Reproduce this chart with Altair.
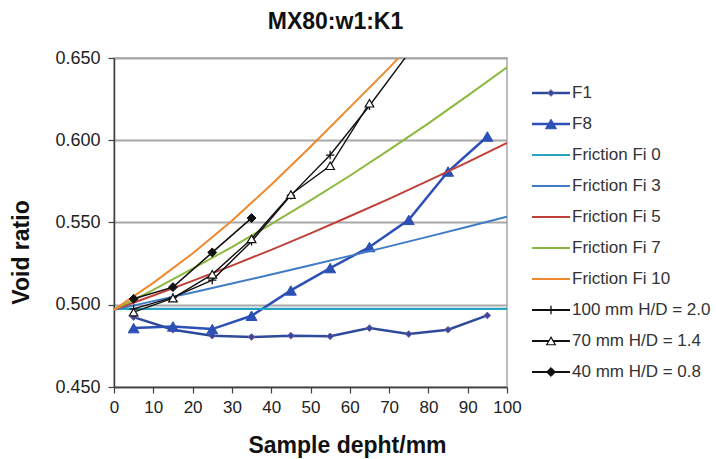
import altair as alt
import pandas as pd

# ---------------- data ----------------
depth_fi = [0, 10, 20, 30, 40, 50, 60, 70, 80, 90, 100]
fi0 = [0.4975, 0.4975, 0.4975, 0.4975, 0.4975, 0.4975, 0.4975, 0.4975, 0.4975, 0.4975, 0.4975]
fi3 = [0.497, 0.5022, 0.5075, 0.5129, 0.5184, 0.5240, 0.5297, 0.5355, 0.5414, 0.5474, 0.5535]
fi5 = [0.497, 0.5056, 0.5145, 0.5238, 0.5334, 0.5434, 0.5538, 0.5644, 0.5755, 0.5867, 0.5984]
fi7 = [0.497, 0.5091, 0.5219, 0.5351, 0.5490, 0.5635, 0.5784, 0.5941, 0.6103, 0.6271, 0.6444]
fi10 = [0.497, 0.5133, 0.5312, 0.5510, 0.5730, 0.5960, 0.6200, 0.6440, 0.6693]

depth_f = [5, 15, 25, 35, 45, 55, 65, 75, 85, 95]
f1 = [0.4925, 0.4848, 0.4812, 0.4804, 0.4812, 0.4808, 0.4858, 0.4822, 0.4848, 0.4935]
f8 = [0.4858, 0.4868, 0.4852, 0.4933, 0.5087, 0.5223, 0.5351, 0.5516, 0.5810, 0.6023]

depth_h100 = [5, 15, 25, 35, 45, 55, 65, 75]
h100 = [0.4975, 0.5045, 0.5150, 0.5385, 0.5665, 0.5910, 0.6210, 0.6530]
depth_h70 = [5, 15, 25, 35, 45, 55, 65]
h70 = [0.4955, 0.5040, 0.5185, 0.5400, 0.5670, 0.5845, 0.6225]
depth_h40 = [5, 15, 25, 35]
h40 = [0.5036, 0.5107, 0.5318, 0.5527]

labels = ["F1", "F8", "Friction Fi 0", "Friction Fi 3", "Friction Fi 5",
          "Friction Fi 7", "Friction Fi 10", "100 mm H/D = 2.0",
          "70 mm H/D = 1.4", "40 mm H/D = 0.8"]

PLUS = "M-1,0L1,0M0,-1L0,1"

series = [
    # label, x, y, line color, line width, marker
    ("F1", depth_f, f1, "#2E4B9B", 2.5,
     dict(shape="diamond", filled=True, fill="#34499E", stroke="#7B5EA0", size=45, strokeWidth=1)),
    ("F8", depth_f, f8, "#2C50B6", 2.5,
     dict(shape="triangle-up", filled=True, fill="#2C50B6", stroke="#2C50B6", size=120, strokeWidth=1)),
    ("Friction Fi 0", depth_fi, fi0, "#25A5C3", 2.2, None),
    ("Friction Fi 3", depth_fi, fi3, "#3F7CC4", 2.0, None),
    ("Friction Fi 5", depth_fi, fi5, "#C0403A", 2.0, None),
    ("Friction Fi 7", depth_fi, fi7, "#8DB83F", 2.0, None),
    ("Friction Fi 10", depth_fi[:len(fi10)], fi10, "#F0882D", 2.0, None),
    ("100 mm H/D = 2.0", depth_h100, h100, "#111111", 1.4,
     dict(shape=PLUS, filled=False, fill="#111111", stroke="#111111", size=70, strokeWidth=1.3)),
    ("70 mm H/D = 1.4", depth_h70, h70, "#111111", 1.4,
     dict(shape="triangle-up", filled=True, fill="#FFFFFF", stroke="#111111", size=75, strokeWidth=1.2)),
    ("40 mm H/D = 0.8", depth_h40, h40, "#111111", 1.6,
     dict(shape="diamond", filled=True, fill="#111111", stroke="#111111", size=80, strokeWidth=1)),
]

W, H = 393, 329

x_scale = alt.Scale(domain=[0, 100], nice=False, zero=False)
y_scale = alt.Scale(domain=[0.45, 0.65], nice=False, zero=False)

x_axis = alt.Axis(values=list(range(0, 101, 10)), grid=False, domainColor="#404040",
                  domainWidth=1.5, tickColor="#404040", tickSize=6, tickWidth=1.2,
                  labelFontSize=17, labelPadding=6, labelColor="#222222", labelFlush=False,
                  title="Sample depht/mm", titleFontSize=23, titleFontWeight="bold",
                  titleColor="#111111", titleX=233, titleY=65, titleAlign="center",
                  titleBaseline="alphabetic")
y_axis = alt.Axis(values=[0.45, 0.5, 0.55, 0.6, 0.65], format=".3f", grid=True,
                  gridColor="#A8A8A8", gridWidth=2, domainColor="#404040", domainWidth=1.5,
                  tickColor="#404040", tickSize=6, tickWidth=1.2, labelFontSize=18,
                  labelPadding=8, labelColor="#222222", labelFlush=False,
                  title="Void ratio", titleFontSize=23, titleFontWeight="bold",
                  titleColor="#111111", titleX=-93, titleY=194, titleAngle=270,
                  titleAlign="center", titleBaseline="middle")

enc_x = alt.X("depth:Q", scale=x_scale, axis=x_axis)
enc_y = alt.Y("e:Q", scale=y_scale, axis=y_axis)

data_layers = []
for lab, xs, ys, col, lw, mk in series:
    df = pd.DataFrame({"depth": xs, "e": ys})
    data_layers.append(
        alt.Chart(df).mark_line(color=col, strokeWidth=lw, clip=True).encode(x=enc_x, y=enc_y)
    )
    if mk is not None:
        data_layers.append(
            alt.Chart(df).mark_point(clip=True, opacity=1, **mk).encode(x=enc_x, y=enc_y)
        )

# ---------------- legend ----------------
leg_df = pd.DataFrame({"label": labels, "idx": list(range(len(labels)))})
leg_scale = alt.Scale(domain=[-1.129, 9.484], reverse=True, nice=False, zero=False)
leg_y = alt.Y("idx:Q", scale=leg_scale, axis=None)
legend_layers = []
for lab, xs, ys, col, lw, mk in series:
    one = leg_df[leg_df["label"] == lab]
    legend_layers.append(
        alt.Chart(one).mark_rule(color=col, strokeWidth=max(lw, 1.8)).encode(
            x=alt.value(418), x2=alt.value(456), y=leg_y)
    )
    if mk is not None:
        legend_layers.append(
            alt.Chart(one).mark_point(opacity=1, **mk).encode(x=alt.value(437), y=leg_y)
        )
legend_layers.append(
    alt.Chart(leg_df).mark_text(align="left", baseline="middle", fontSize=17,
                                color="#333333").encode(
        x=alt.value(458), y=leg_y, text="label:N")
)

main = alt.layer(*data_layers)
legend = alt.layer(*legend_layers)

chart = alt.layer(main, legend).resolve_scale(y="independent").properties(
    width=W, height=H,
    title=alt.TitleParams("MX80:w1:K1", anchor="middle", frame="group", fontSize=23,
                          fontWeight="bold", color="#111111", baseline="alphabetic",
                          offset=18, dx=25, dy=21),
    padding={"left": 114, "top": 58, "right": 209, "bottom": 72},
    autosize=alt.AutoSizeParams(type="none"),
).configure(font="Liberation Sans").configure_view(stroke="#A8A8A8", strokeWidth=1.5)

chart.save("out.html", embed_options={"renderer": "svg", "actions": False})
